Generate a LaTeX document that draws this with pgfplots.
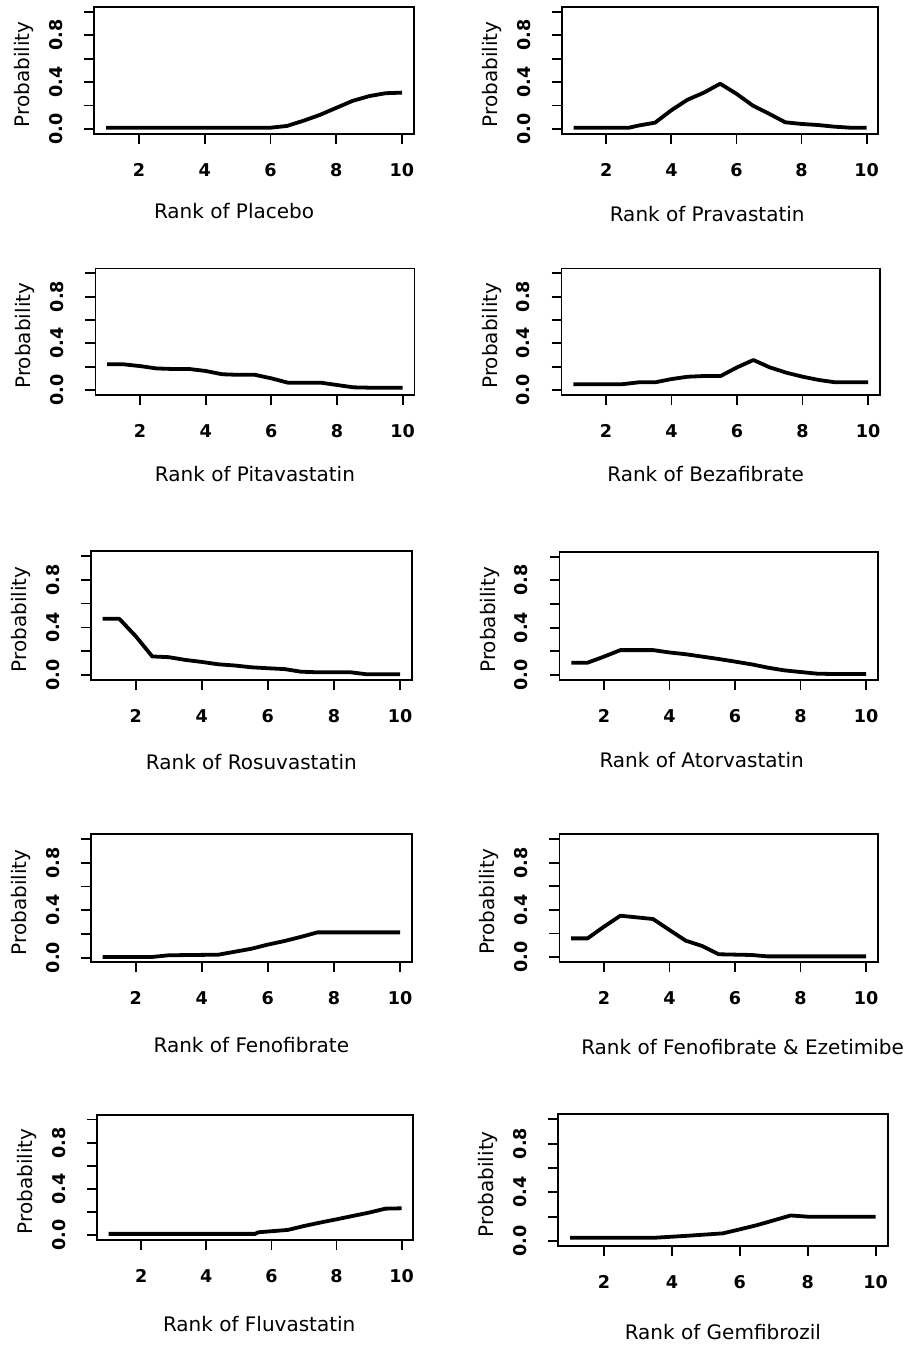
\documentclass[border=0pt]{standalone}
\usepackage{fontspec}
\setmainfont{DejaVu Sans}
\usepackage{pgfplots}
\pgfplotsset{compat=1.18}
\newcommand\tickfont{\fontsize{8.8}{10}\selectfont\bfseries}
\newcommand\labfont{\fontsize{10}{12}\selectfont}
\pgfplotsset{rp/.style={
  scale only axis, anchor=south west,
  xmin=0.64, xmax=10.36, ymin=-0.04, ymax=1.04,
  xtick={2,4,6,8,10}, xticklabels={2,4,6,8,10},
  ytick={0,0.2,0.4,0.6,0.8,1}, yticklabels={0.0,,0.4,,0.8,},
  /pgf/number format/assume math mode=true,
  tick align=outside, tick pos=left, major tick length=5pt,
  axis line style={line width=0.9pt},
  every tick/.style={black, line width=0.9pt},
  xticklabel style={font=\tickfont, anchor=center, yshift=-13pt},
  yticklabel style={font=\tickfont, anchor=center, xshift=-14pt, rotate=90},
  ylabel={Probability},
  every axis y label/.style={at={(axis description cs:0,0.5)}, xshift=-35pt, yshift=-2pt, rotate=90, anchor=center, font=\labfont},
},
cv/.style={black, no markers, line width=1.9pt, line join=round},
xl/.style 2 args={every axis x label/.style={at={(axis description cs:0.5,0)}, anchor=center, xshift=#1pt, yshift=-#2pt, font=\labfont}},
}
\begin{document}
\begin{tikzpicture}
\path[use as bounding box, fill=white] (0,0) rectangle (456pt,672.5pt);
% Row 1
\begin{axis}[rp, at={(47.15pt,605.65pt)}, width=159.75pt, height=63.35pt, xlabel={Rank of Placebo}, xl={-10}{38.5}]
\addplot[cv] coordinates {(1,0.011)(6,0.011)(6.5,0.026)(7,0.07)(7.5,0.12)(8,0.18)(8.5,0.24)(9,0.28)(9.5,0.305)(10,0.31)};
\end{axis}
\begin{axis}[rp, at={(281.0pt,605.65pt)}, width=158.2pt, height=63.35pt, xlabel={Rank of Pravastatin}, xl={-6.5}{40}]
\addplot[cv] coordinates {(1,0.011)(2.7,0.011)(3,0.03)(3.5,0.054)(4,0.16)(4.5,0.25)(5,0.31)(5.5,0.386)(6,0.30)(6.5,0.2)(7,0.13)(7.5,0.057)(8,0.043)(8.5,0.034)(9,0.02)(9.5,0.011)(10,0.011)};
\end{axis}
% Row 2
\begin{axis}[rp, at={(47.7pt,475.15pt)}, width=159.55pt, height=63.05pt, xlabel={Rank of Pitavastatin}, xl={0}{39.5}]
\addplot[cv] coordinates {(1,0.22)(1.5,0.22)(2,0.205)(2.5,0.185)(3,0.18)(3.5,0.18)(4,0.163)(4.5,0.135)(5,0.13)(5.5,0.13)(6,0.1)(6.5,0.063)(7,0.063)(7.5,0.063)(8,0.043)(8.5,0.023)(9,0.02)(10,0.02)};
\end{axis}
\begin{axis}[rp, at={(280.75pt,475.15pt)}, width=159.15pt, height=63.05pt, xlabel={Rank of Bezafibrate}, xl={-7.5}{39.5}]
\addplot[cv] coordinates {(1,0.05)(2.5,0.05)(3,0.066)(3.5,0.066)(4,0.094)(4.5,0.114)(5,0.12)(5.5,0.12)(6,0.194)(6.5,0.257)(7,0.194)(7.5,0.149)(8,0.114)(8.5,0.086)(9,0.066)(10,0.066)};
\end{axis}
% Row 3
\begin{axis}[rp, at={(45.4pt,332.6pt)}, width=160.55pt, height=64.3pt, xlabel={Rank of Rosuvastatin}, xl={0}{41}]
\addplot[cv] coordinates {(1,0.473)(1.5,0.473)(2,0.326)(2.5,0.156)(3,0.15)(3.5,0.127)(4,0.11)(4.5,0.09)(5,0.08)(5.5,0.065)(6,0.057)(6.5,0.05)(7,0.028)(7.5,0.023)(8.5,0.023)(9,0.006)(10,0.006)};
\end{axis}
\begin{axis}[rp, at={(279.75pt,332.65pt)}, width=159.15pt, height=63.9pt, xlabel={Rank of Atorvastatin}, xl={-8.5}{40}]
\addplot[cv] coordinates {(1,0.104)(1.5,0.104)(2,0.155)(2.5,0.21)(3.5,0.21)(4,0.19)(4.5,0.175)(5,0.155)(5.5,0.135)(6,0.113)(6.5,0.09)(7,0.062)(7.5,0.039)(8,0.025)(8.5,0.011)(9,0.008)(10,0.008)};
\end{axis}
% Row 4
\begin{axis}[rp, at={(45.4pt,191.3pt)}, width=160.55pt, height=64.05pt, xlabel={Rank of Fenofibrate}, xl={0}{41.5}]
\addplot[cv] coordinates {(1,0.006)(2.5,0.006)(3,0.02)(4.5,0.025)(5,0.05)(5.5,0.075)(6,0.11)(6.5,0.14)(7,0.175)(7.5,0.213)(10,0.213)};
\end{axis}
\begin{axis}[rp, at={(279.7pt,191.65pt)}, width=159.2pt, height=63.65pt, xlabel={Rank of Fenofibrate \& Ezetimibe}, xl={12}{42.5}]
\addplot[cv] coordinates {(1,0.158)(1.5,0.158)(2,0.257)(2.5,0.35)(3,0.336)(3.5,0.322)(4,0.229)(4.5,0.138)(5,0.093)(5.5,0.023)(6.5,0.017)(7,0.005)(10,0.005)};
\end{axis}
% Row 5
\begin{axis}[rp, at={(48.5pt,52.55pt)}, width=158.2pt, height=62.5pt, xlabel={Rank of Fluvastatin}, xl={2}{42}]
\addplot[cv] coordinates {(1,0.012)(5.5,0.012)(5.6,0.026)(6,0.035)(6.5,0.046)(7,0.08)(7.5,0.11)(8,0.138)(8.5,0.167)(9,0.196)(9.5,0.23)(10,0.233)};
\end{axis}
\begin{axis}[rp, at={(278.9pt,49.55pt)}, width=165.05pt, height=65.75pt, xlabel={Rank of Gemfibrozil}, xl={0}{43}]
\addplot[cv] coordinates {(1,0.027)(3.5,0.027)(4.5,0.044)(5.5,0.063)(6,0.096)(6.5,0.13)(7,0.17)(7.5,0.21)(8,0.2)(10,0.2)};
\end{axis}
\end{tikzpicture}
\end{document}
